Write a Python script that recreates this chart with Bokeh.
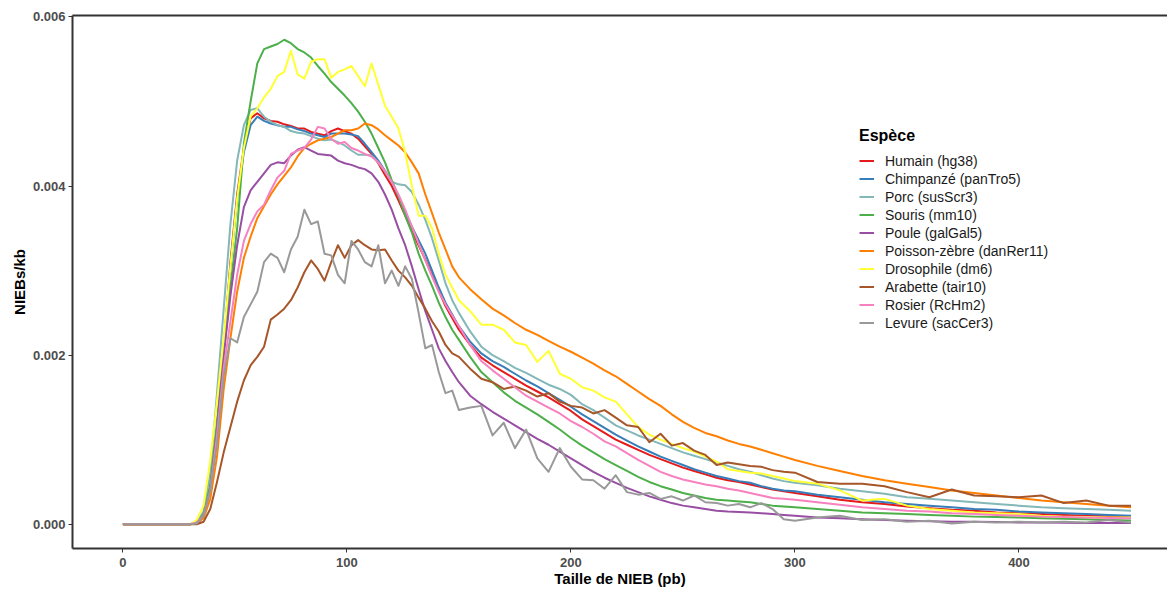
import numpy as np
from bokeh.plotting import figure
from bokeh.models import Range1d, FixedTicker, PrintfTickFormatter, LinearAxis, Legend, LegendItem
from bokeh.embed import file_html
from bokeh.resources import INLINE

# Taille de NIEB (pb)
taille = [0, 30, 33, 36, 39, 42, 45, 48, 51, 54, 57, 60, 63, 66, 69, 72, 75, 78, 81, 84, 87, 90,
          93, 96, 99, 102, 105, 108, 111, 114, 117, 120, 123, 126, 129, 132, 135, 138, 141, 144, 147, 150,
          155, 160, 165, 170, 175, 180, 185, 190, 195, 200, 205, 210, 215, 220, 225, 230, 235, 240, 245,
          250, 255, 260, 265, 270, 275, 280, 285, 290, 295, 300,
          310, 320, 330, 340, 350, 360, 370, 380, 390, 400, 410, 420, 430, 440, 450]

# NIEBs/kb, in units of 1e-3
humain = [0, 0, 0.02, 0.12, 0.45, 1.15, 2.1, 3.1, 3.9, 4.45, 4.8, 4.86, 4.8, 4.77, 4.76, 4.73, 4.71, 4.68, 4.68, 4.64, 4.62, 4.6,
          4.65, 4.68, 4.65, 4.62, 4.56, 4.47, 4.38, 4.27, 4.13, 4.0, 3.83, 3.65, 3.47, 3.3, 3.13, 2.95, 2.76, 2.58, 2.44, 2.3,
          2.12, 1.97, 1.88, 1.8, 1.72, 1.64, 1.57, 1.5, 1.42, 1.34, 1.24, 1.16, 1.08, 1.0, 0.94, 0.88, 0.82, 0.77, 0.72,
          0.67, 0.63, 0.59, 0.55, 0.52, 0.5, 0.47, 0.44, 0.41, 0.39, 0.37,
          0.33, 0.29, 0.26, 0.24, 0.21, 0.19, 0.17, 0.16, 0.14, 0.13, 0.12, 0.11, 0.1, 0.095, 0.09]
chimpanze = [0, 0, 0.02, 0.12, 0.45, 1.15, 2.1, 3.05, 3.85, 4.4, 4.72, 4.82, 4.77, 4.74, 4.72, 4.7, 4.7, 4.67, 4.65, 4.62, 4.6, 4.58,
             4.62, 4.62, 4.62, 4.61, 4.59, 4.5, 4.4, 4.3, 4.18, 4.05, 3.88, 3.7, 3.52, 3.36, 3.2, 3.0, 2.8, 2.62, 2.48, 2.34,
             2.16, 2.02, 1.93, 1.86, 1.78, 1.7, 1.63, 1.55, 1.47, 1.39, 1.3, 1.22, 1.14, 1.06, 0.99, 0.92, 0.86, 0.8, 0.75,
             0.7, 0.65, 0.61, 0.57, 0.54, 0.51, 0.49, 0.45, 0.42, 0.4, 0.39,
             0.35, 0.32, 0.29, 0.26, 0.24, 0.22, 0.2, 0.18, 0.17, 0.15, 0.14, 0.13, 0.12, 0.11, 0.1]
porc = [0, 0, 0.03, 0.15, 0.6, 1.55, 2.55, 3.55, 4.3, 4.72, 4.9, 4.92, 4.82, 4.76, 4.72, 4.7, 4.65, 4.63, 4.62, 4.59, 4.56, 4.54,
        4.55, 4.52, 4.48, 4.42, 4.37, 4.37, 4.36, 4.28, 4.17, 4.05, 4.02, 4.01, 3.93, 3.78, 3.6, 3.38, 3.12, 2.85, 2.65, 2.5,
        2.28, 2.1, 2.0, 1.93, 1.85, 1.79, 1.72, 1.65, 1.6, 1.53, 1.42, 1.35, 1.26, 1.17, 1.11, 1.05, 1.0, 0.95, 0.9,
        0.85, 0.81, 0.77, 0.73, 0.69, 0.65, 0.62, 0.58, 0.54, 0.51, 0.49,
        0.46, 0.42, 0.39, 0.36, 0.32, 0.3, 0.28, 0.26, 0.24, 0.22, 0.2, 0.19, 0.18, 0.17, 0.16]
souris = [0, 0, 0.02, 0.12, 0.45, 1.2, 2.0, 2.8, 3.5, 4.5, 5.0, 5.45, 5.62, 5.65, 5.68, 5.73, 5.69, 5.62, 5.58, 5.52, 5.42, 5.33,
          5.23, 5.15, 5.07, 4.98, 4.88, 4.76, 4.62, 4.45, 4.28, 4.07, 3.88, 3.65, 3.45, 3.2, 3.0, 2.82, 2.62, 2.45, 2.3, 2.18,
          1.98, 1.8, 1.68, 1.56, 1.46, 1.38, 1.3, 1.21, 1.12, 1.02, 0.93, 0.85, 0.77, 0.7, 0.63, 0.56, 0.5, 0.45, 0.41,
          0.37, 0.34, 0.31, 0.29, 0.28, 0.27, 0.26, 0.24, 0.22, 0.21, 0.2,
          0.18, 0.16, 0.14, 0.13, 0.12, 0.11, 0.1, 0.09, 0.085, 0.08, 0.07, 0.065, 0.06, 0.05, 0.045]
poule = [0, 0, 0.02, 0.1, 0.4, 1.1, 2.0, 2.7, 3.3, 3.75, 3.95, 4.05, 4.15, 4.25, 4.28, 4.27, 4.36, 4.43, 4.46, 4.42, 4.38, 4.37,
         4.36, 4.3, 4.27, 4.25, 4.22, 4.2, 4.15, 4.05, 3.9, 3.72, 3.5, 3.3, 3.05, 2.78, 2.52, 2.3, 2.08, 1.93, 1.8, 1.68,
         1.52, 1.42, 1.33, 1.25, 1.17, 1.09, 1.01, 0.94, 0.86, 0.78, 0.7, 0.62, 0.55, 0.49, 0.43, 0.38, 0.33, 0.29, 0.25,
         0.22, 0.2, 0.18, 0.16, 0.15, 0.145, 0.14, 0.13, 0.12, 0.11, 0.1,
         0.08, 0.07, 0.06, 0.05, 0.04, 0.035, 0.03, 0.03, 0.025, 0.02, 0.02, 0.018, 0.016, 0.015, 0.015]
poisson_zebre = [0, 0, 0.01, 0.07, 0.3, 0.8, 1.6, 2.2, 2.75, 3.15, 3.4, 3.62, 3.76, 3.9, 4.02, 4.12, 4.22, 4.35, 4.45, 4.5, 4.54, 4.56,
                 4.58, 4.62, 4.66, 4.66, 4.68, 4.74, 4.72, 4.67, 4.6, 4.54, 4.48, 4.4, 4.28, 4.15, 3.9, 3.68, 3.45, 3.25, 3.05, 2.92,
                 2.78, 2.66, 2.55, 2.47, 2.38, 2.3, 2.24, 2.17, 2.1, 2.04, 1.97, 1.9, 1.82, 1.75, 1.66, 1.57, 1.48, 1.4, 1.3,
                 1.21, 1.14, 1.08, 1.04, 0.99, 0.95, 0.92, 0.88, 0.84, 0.8, 0.76,
                 0.69, 0.63, 0.57, 0.52, 0.48, 0.44, 0.4, 0.37, 0.34, 0.31, 0.28, 0.26, 0.24, 0.22, 0.2]
drosophile = [0, 0, 0.05, 0.22, 0.75, 1.45, 2.2, 3.05, 3.85, 4.45, 4.82, 4.92, 5.05, 5.15, 5.3, 5.35, 5.6, 5.32, 5.27, 5.47, 5.5, 5.5,
              5.28, 5.35, 5.38, 5.42, 5.3, 5.18, 5.45, 5.2, 4.95, 4.82, 4.68, 4.4, 4.0, 3.65, 3.65, 3.5, 3.2, 2.95, 2.8, 2.65,
              2.52, 2.36, 2.36, 2.3, 2.15, 2.12, 1.92, 2.05, 1.78, 1.72, 1.62, 1.58, 1.5, 1.45, 1.3, 1.15, 1.06, 1.0, 0.95,
              0.9, 0.86, 0.8, 0.74, 0.65, 0.63, 0.61, 0.6, 0.57, 0.54, 0.51,
              0.48, 0.4, 0.28, 0.3, 0.22, 0.18, 0.16, 0.14, 0.13, 0.12, 0.1, 0.09, 0.085, 0.08, 0.08]
arabette = [0, 0, 0, 0.03, 0.18, 0.5, 0.85, 1.15, 1.45, 1.7, 1.88, 1.98, 2.1, 2.42, 2.48, 2.55, 2.65, 2.8, 2.98, 3.12, 3.02, 2.88,
            3.1, 3.3, 3.15, 3.3, 3.36, 3.3, 3.25, 3.24, 3.25, 3.12, 3.0, 2.92, 2.82, 2.68, 2.55, 2.4, 2.28, 2.12, 2.02, 1.98,
            1.84, 1.72, 1.68, 1.6, 1.63, 1.58, 1.51, 1.55, 1.45, 1.4, 1.38, 1.31, 1.35, 1.26, 1.17, 1.15, 0.97, 1.07, 0.93,
            0.96, 0.87, 0.82, 0.7, 0.73, 0.71, 0.69, 0.68, 0.64, 0.62, 0.61,
            0.5, 0.48, 0.48, 0.45, 0.38, 0.32, 0.41, 0.34, 0.33, 0.32, 0.34, 0.25, 0.28, 0.22, 0.22]
rosier = [0, 0, 0.02, 0.1, 0.4, 1.05, 1.85, 2.4, 2.95, 3.35, 3.55, 3.7, 3.78, 3.95, 4.1, 4.18, 4.38, 4.42, 4.45, 4.55, 4.7, 4.68,
          4.56, 4.5, 4.52, 4.45, 4.42, 4.38, 4.35, 4.28, 4.18, 4.05, 3.9, 3.72, 3.52, 3.32, 3.12, 2.93, 2.75, 2.6, 2.47, 2.34,
          2.12, 1.93, 1.82, 1.72, 1.62, 1.52, 1.45, 1.38, 1.31, 1.22, 1.15, 1.07, 0.98, 0.92, 0.84, 0.76, 0.69, 0.62, 0.57,
          0.53, 0.5, 0.47, 0.45, 0.42, 0.4, 0.37, 0.34, 0.31, 0.3, 0.29,
          0.26, 0.23, 0.2, 0.18, 0.16, 0.15, 0.13, 0.12, 0.11, 0.1, 0.09, 0.085, 0.08, 0.075, 0.07]
levure = [0, 0, 0.01, 0.1, 0.4, 0.95, 1.75, 2.2, 2.15, 2.45, 2.6, 2.75, 3.1, 3.2, 3.15, 2.98, 3.25, 3.4, 3.72, 3.55, 3.58, 3.2,
          3.18, 2.95, 2.85, 3.35, 3.25, 3.1, 3.05, 3.3, 2.85, 3.0, 2.82, 3.05, 2.9, 2.5, 2.08, 2.12, 1.8, 1.55, 1.58, 1.35,
          1.38, 1.4, 1.05, 1.2, 0.9, 1.12, 0.78, 0.62, 0.9, 0.68, 0.53, 0.52, 0.42, 0.58, 0.38, 0.35, 0.37, 0.3, 0.33,
          0.28, 0.34, 0.26, 0.25, 0.22, 0.24, 0.2, 0.25, 0.18, 0.06, 0.04,
          0.08, 0.1, 0.05, 0.06, 0.03, 0.04, 0.01, 0.03, 0.02, 0.03, 0.02, 0.03, 0.02, 0.05, 0.02]

especes = ["Humain (hg38)", "Chimpanzé (panTro5)", "Porc (susScr3)", "Souris (mm10)", "Poule (galGal5)",
           "Poisson-zèbre (danRer11)", "Drosophile (dm6)", "Arabette (tair10)", "Rosier (RcHm2)", "Levure (sacCer3)"]
series = [humain, chimpanze, porc, souris, poule, poisson_zebre, drosophile, arabette, rosier, levure]
couleurs = ["#E41A1C", "#377EB8", "#83B7B8", "#4DAF4A", "#984EA3",
            "#FF7F00", "#FFFF33", "#A65628", "#F781BF", "#999999"]

y_ticks = [0.0, 0.002, 0.004, 0.006]
x_ticks = [0, 100, 200, 300, 400]

FONT = "Liberation Sans"

p = figure(width=1167, height=590, output_backend="svg", toolbar_location=None,
           x_range=Range1d(-22.5, 466.3), y_range=Range1d(-0.000287, 0.006017),
           min_border_left=72, min_border_right=0, min_border_top=15, min_border_bottom=42)
p.grid.visible = False
p.outline_line_color = None
p.background_fill_color = "white"
p.border_fill_color = "white"

items = []
for name, vals, col in zip(especes, series, couleurs):
    yv = np.array(vals) * 1e-3
    r = p.line(taille, yv, line_color=col, line_width=2, line_join="round")
    items.append(LegendItem(label=name, renderers=[r]))

for ax in (p.xaxis[0], p.yaxis[0]):
    ax.axis_line_color = "#333333"
    ax.axis_line_width = 2
    ax.major_tick_line_color = "#333333"
    ax.major_tick_line_width = 1
    ax.major_tick_out = 4
    ax.major_tick_in = 0
    ax.minor_tick_line_color = None
    ax.major_label_text_font = FONT
    ax.major_label_text_font_size = "13px"
    ax.major_label_text_font_style = "bold"
    ax.major_label_text_color = "#4D4D4D"
    ax.major_label_standoff = 3
    ax.axis_label_text_font = FONT
    ax.axis_label_text_font_size = "15px"
    ax.axis_label_text_font_style = "bold"
    ax.axis_label_text_color = "black"
    ax.axis_label_standoff = 2

p.xaxis.major_label_standoff = 5
p.xaxis.axis_label_standoff = 0
p.xaxis.ticker = FixedTicker(ticks=x_ticks)
p.yaxis.ticker = FixedTicker(ticks=y_ticks)
p.yaxis.formatter = PrintfTickFormatter(format="%.3f")
p.xaxis.axis_label = "Taille de NIEB (pb)"
p.yaxis.axis_label = "NIEBs/kb"

top = LinearAxis(ticker=FixedTicker(ticks=[]), axis_line_color="#333333", axis_line_width=2,
                 major_tick_line_color=None, minor_tick_line_color=None,
                 major_label_text_font_size="0px")
p.add_layout(top, "above")

legend = Legend(items=items, location=(787, 217), title="Espèce",
                border_line_color=None, background_fill_alpha=0,
                padding=0, margin=0, spacing=1, label_height=17, glyph_height=17, glyph_width=15,
                label_standoff=11, label_text_font=FONT, label_text_font_size="14px",
                label_text_color="#1A1A1A", title_text_font=FONT, title_text_font_size="16px",
                title_text_font_style="bold", title_text_color="black", title_standoff=7)
p.add_layout(legend)

open("out.html", "w").write(file_html(p, INLINE))
